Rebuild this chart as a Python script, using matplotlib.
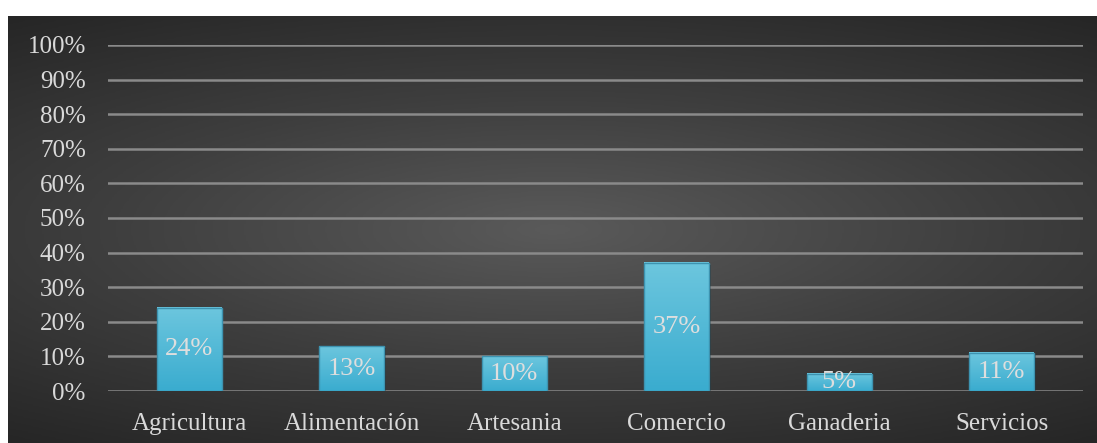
import numpy as np
import matplotlib.pyplot as plt
from matplotlib.colors import LinearSegmentedColormap

categorias = ['Agricultura', 'Alimentación', 'Artesania', 'Comercio', 'Ganaderia', 'Servicios']
valores = [24, 13, 10, 37, 5, 11]
etiquetas = ['24%', '13%', '10%', '37%', '5%', '11%']
yticks = [0, 10, 20, 30, 40, 50, 60, 70, 80, 90, 100]

plt.rcParams['font.family'] = ['Liberation Serif', 'DejaVu Serif']

W, H = 1097, 443
fig = plt.figure(figsize=(W / 100, H / 100), dpi=100)
fig.patch.set_facecolor('white')

# fondo con degradado radial
bg = fig.add_axes([8 / W, 0, 1 - 8 / W, 1 - 16 / H])
bg.set_axis_off()
yy, xx = np.mgrid[-1:1:300j, -1:1:700j]
r = np.sqrt((xx * 0.75) ** 2 + (yy * 1.0) ** 2)
bg_cmap = LinearSegmentedColormap.from_list('bg', ['#5a5a5a', '#3e3e3e', '#262626'])
bg.imshow(np.clip(r / 1.25, 0, 1), cmap=bg_cmap, aspect='auto', extent=[0, 1, 0, 1], vmin=0, vmax=1)
bg.set_xlim(0, 1)
bg.set_ylim(0, 1)

ax = fig.add_axes([108 / W, (H - 391) / H, (1083 - 108) / W, (391 - 45) / H])
ax.patch.set_alpha(0)
x = np.arange(len(categorias))
ancho = 0.4

bar_cmap = LinearSegmentedColormap.from_list('bar', ['#3aaccf', '#6cc6de'])
grad = np.linspace(0, 1, 100).reshape(-1, 1)
for xi, v, lab in zip(x, valores, etiquetas):
    # sombra
    ax.bar(xi + 0.01, v, ancho, bottom=-0.6, color='black', alpha=0.25, zorder=2)
    ax.imshow(grad, cmap=bar_cmap, origin='lower', aspect='auto',
              extent=[xi - ancho / 2, xi + ancho / 2, 0, v], zorder=3)
    ax.bar(xi, v, ancho, facecolor='none', edgecolor='#3d93b0', linewidth=1, zorder=4)
    ax.text(xi, v / 2, lab, ha='center', va='center', color='#dedede', fontsize=19, zorder=5)

for t in yticks:
    ax.axhline(t, color='#8a8a8a', linewidth=1.8, zorder=1)

ax.set_xlim(-0.5, 5.5)
ax.set_ylim(0, 100)
ax.set_yticks(yticks)
ax.set_yticklabels([f'{t}%' for t in yticks])
ax.set_xticks(x)
ax.set_xticklabels(categorias)
ax.tick_params(axis='both', length=0, colors='#d9d9d9', labelsize=18)
ax.tick_params(axis='y', pad=16)
ax.tick_params(axis='x', pad=16)
for s in ax.spines.values():
    s.set_visible(False)

fig.savefig('out.png', dpi=100)
